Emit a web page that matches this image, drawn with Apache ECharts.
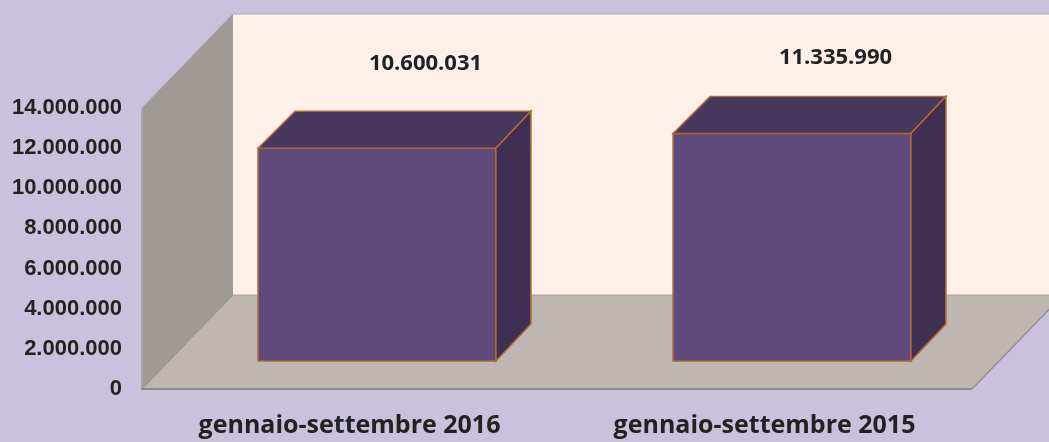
<!DOCTYPE html>
<html><head><meta charset="utf-8">
<style>html,body{margin:0;padding:0;background:#CAC1DC}#c{width:1049px;height:442px}</style>
<script src="https://cdn.jsdelivr.net/npm/echarts@6/dist/echarts.min.js"></script>
</head><body><div id="c"></div>
<script>
const categories = ['gennaio-settembre 2016', 'gennaio-settembre 2015'];
const values = [10600031, 11335990];
const labelTexts = ['10.600.031', '11.335.990'];
const yTicks = [0, 2000000, 4000000, 6000000, 8000000, 10000000, 12000000, 14000000];

const WALL_DX = 91, WALL_DY = 94;
const BAR_INSET = 28, BAR_DEPTH = 37, BAR_RATIO = 0.573, BACK_SHRINK = 2;
const EDGE = '#A86B35';
const LABEL_SHIFT = [[76, -113], [71, -103.5]];

function poly(points, fill, stroke, lw) {
  return { type: 'polygon', shape: { points }, style: { fill, stroke: stroke || null, lineWidth: lw || 0 } };
}
function fmt(v) { return String(v).replace(/\B(?=(\d{3})+$)/g, '.'); }

function renderWalls(params) {
  const c = params.coordSys, L = c.x, R = c.x + c.width, T = c.y, B = c.y + c.height;
  const dx = WALL_DX, dy = WALL_DY;
  return { type: 'group', children: [
    poly([[L + dx, T - dy], [R + dx, T - dy], [R + dx, B - dy], [L + dx, B - dy]], '#FEF0E9'),
    { type: 'line', shape: { x1: L + dx, y1: T - dy, x2: R + dx, y2: T - dy }, style: { stroke: '#AFA7C0', lineWidth: 1 } },
    poly([[L, T], [L + dx, T - dy], [L + dx, B - dy], [L, B]], '#A09A96'),
    poly([[L, B], [R, B], [R + dx, B - dy], [L + dx, B - dy]], '#BFB6B1'),
    { type: 'line', shape: { x1: L + dx, y1: B - dy, x2: R + dx, y2: B - dy }, style: { stroke: '#A8A29E', lineWidth: 1 } },
    { type: 'line', shape: { x1: L, y1: B, x2: L + dx, y2: B - dy }, style: { stroke: '#96908C', lineWidth: 1 } },
    { type: 'line', shape: { x1: L, y1: T, x2: L + dx, y2: T - dy }, style: { stroke: '#A8A2AE', lineWidth: 1 } },
    { type: 'line', shape: { x1: L, y1: T, x2: L, y2: B }, style: { stroke: '#A8A2AE', lineWidth: 2 } },
    { type: 'line', shape: { x1: L - 1, y1: B, x2: R, y2: B }, style: { stroke: '#8F8B8B', lineWidth: 2 } },
    { type: 'line', shape: { x1: R, y1: B, x2: R + dx, y2: B - dy }, style: { stroke: '#96908C', lineWidth: 1.5 } }
  ]};
}

function renderBar(params, api) {
  const i = api.value(0), v = api.value(1);
  const top = api.coord([i, v]), base = api.coord([i, 0]);
  const w = api.size([1, 0])[0] * BAR_RATIO;
  const x0 = top[0] - w / 2 + BAR_INSET - 0.5, x1 = x0 + w;
  const yT = top[1] - BAR_INSET, yB = base[1] - BAR_INSET, d = BAR_DEPTH;
  const xb = x1 + d - BACK_SHRINK;
  const s = LABEL_SHIFT[params.dataIndex];
  return { type: 'group', children: [
    poly([[x0, yT], [x1, yT], [x1, yB], [x0, yB]], '#604A7B', EDGE, 1.6),
    poly([[x0, yT], [x0 + d, yT - d], [xb, yT - d], [x1, yT]], '#47375C', EDGE, 1.6),
    poly([[x1, yT], [xb, yT - d], [xb, yB - d], [x1, yB]], '#3F2F52', EDGE, 1.6),
    { type: 'text', x: top[0] + s[0], y: top[1] + s[1], style: {
      text: labelTexts[params.dataIndex], fill: '#222222',
      fontFamily: 'Open Sans', fontWeight: 'bold', fontSize: 22, align: 'center', verticalAlign: 'middle' } }
  ]};
}

const chart = echarts.init(document.getElementById('c'), null, { renderer: 'canvas' });
chart.setOption({
  backgroundColor: '#CAC1DC',
  animation: false,
  grid: { left: 142, right: 77, top: 108, bottom: 53, containLabel: false },
  xAxis: { type: 'category', data: categories,
    axisLine: { show: false }, axisTick: { show: false }, splitLine: { show: false },
    axisLabel: { color: '#222222', fontFamily: 'Open Sans', fontWeight: 'bold', fontSize: 25, margin: 23, lineHeight: 28 } },
  yAxis: { type: 'value', min: yTicks[0], max: yTicks[yTicks.length - 1], interval: yTicks[1] - yTicks[0],
    axisLine: { show: false }, axisTick: { show: false }, splitLine: { show: false },
    axisLabel: { color: '#222222', fontFamily: 'Liberation Sans', fontWeight: 'bold', fontSize: 22, margin: 20, padding: [4, 0, 0, 0], formatter: fmt } },
  series: [
    { type: 'custom', coordinateSystem: 'cartesian2d', data: [[0, 0]], renderItem: renderWalls, clip: false, silent: true, z: 1 },
    { type: 'custom', coordinateSystem: 'cartesian2d', data: values.map((v, i) => [i, v]), renderItem: renderBar, clip: false, z: 2,
      encode: { x: 0, y: 1 } }
  ]
});
</script></body></html>
